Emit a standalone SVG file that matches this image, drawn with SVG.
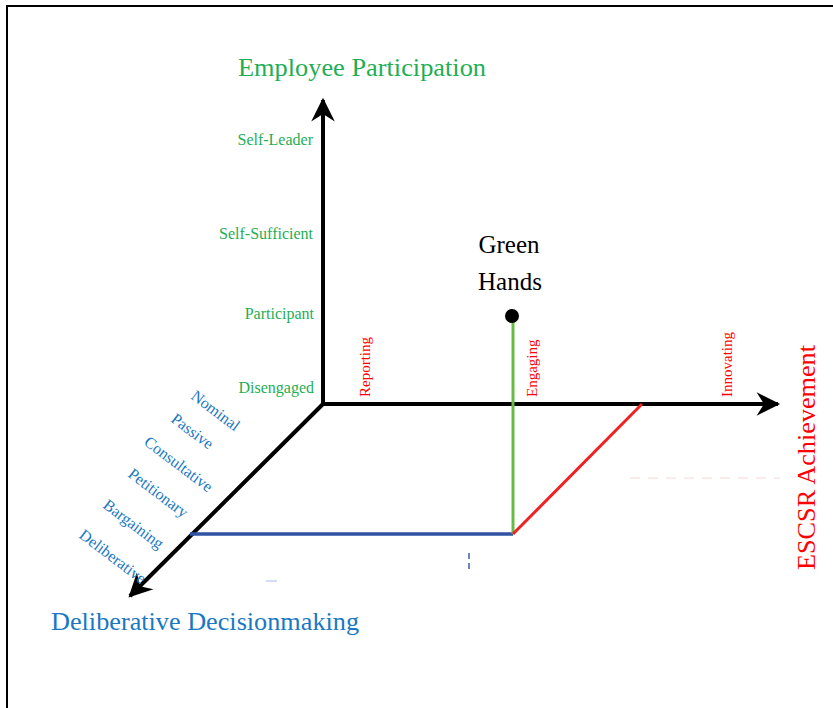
<svg xmlns="http://www.w3.org/2000/svg" width="833" height="708" viewBox="0 0 833 708">
<style>
.serif{font-family:"Liberation Serif","Times New Roman",serif}
.g{fill:#1fae55;font-size:16px}
.r{fill:#ff0000;font-size:15px}
.b{fill:#1a78c2;font-size:16px}
.axis{stroke:#000;stroke-width:4;fill:none}
</style>
<defs>
<marker id="ah" markerUnits="userSpaceOnUse" markerWidth="30" markerHeight="30" viewBox="-24 -14 28 28" refX="0" refY="0" orient="auto">
<path d="M2,0 L-20,-11 L-13,0 L-20,11 Z" fill="#000"/>
</marker>
</defs>
<rect x="0" y="0" width="833" height="708" fill="#fff"/>
<rect x="7" y="6" width="900" height="800" fill="none" stroke="#000" stroke-width="2"/>

<g id="connectors">
<line class="axis" x1="323" y1="404" x2="323" y2="100" marker-end="url(#ah)"/>
<line class="axis" x1="321" y1="404" x2="778" y2="404" marker-end="url(#ah)"/>
<line class="axis" x1="323" y1="404" x2="130" y2="596" marker-end="url(#ah)"/>
<line x1="190" y1="534" x2="513" y2="534" stroke="#2f52a3" stroke-width="3.5"/>
<line x1="513" y1="316" x2="513" y2="534" stroke="#66bb44" stroke-width="3"/>
<line x1="513" y1="534" x2="642" y2="404" stroke="#ee2222" stroke-width="3"/>
<line x1="469" y1="553" x2="469" y2="571" stroke="#2f52a3" stroke-width="2" stroke-dasharray="6 4" opacity="0.7"/>
<line x1="630" y1="478" x2="780" y2="478" stroke="#f4b0b0" stroke-width="1" stroke-dasharray="10 8" opacity="0.5"/>
<line x1="266" y1="581" x2="277" y2="581" stroke="#8fa6d8" stroke-width="1.5" opacity="0.5"/>
</g>

<g id="axis-employee-participation" class="serif">
<text x="238" y="76" font-size="26" fill="#1fae55" textLength="248" lengthAdjust="spacingAndGlyphs">Employee Participation</text>
<text class="g" x="313" y="145" text-anchor="end">Self-Leader</text>
<text class="g" x="313" y="239" text-anchor="end">Self-Sufficient</text>
<text class="g" x="314" y="319" text-anchor="end">Participant</text>
<text class="g" x="314" y="393" text-anchor="end">Disengaged</text>
</g>

<g id="axis-escsr-achievement" class="serif">
<text class="r" transform="translate(370,397) rotate(-90)">Reporting</text>
<text class="r" transform="translate(537,397) rotate(-90)">Engaging</text>
<text class="r" transform="translate(732,397) rotate(-90)">Innovating</text>
<text transform="translate(815,570) rotate(-90)" font-size="26" fill="#ff0000" textLength="225" lengthAdjust="spacingAndGlyphs">ESCSR Achievement</text>
</g>

<g id="axis-deliberative-decisionmaking" class="serif">
<text class="b" transform="translate(190,398) rotate(37)">Nominal</text>
<text class="b" transform="translate(170,421) rotate(37)">Passive</text>
<text class="b" transform="translate(143,444) rotate(37)">Consultative</text>
<text class="b" transform="translate(127,476) rotate(37)">Petitionary</text>
<text class="b" transform="translate(102,507) rotate(37)">Bargaining</text>
<text class="b" transform="translate(78,537) rotate(37)">Deliberative</text>
<text x="51" y="630" font-size="25" fill="#1a78c2" textLength="308" lengthAdjust="spacingAndGlyphs">Deliberative  Decisionmaking</text>
</g>

<g id="green-hands" class="serif">
<circle cx="512" cy="316" r="7" fill="#000"/>
<text x="509" y="253" font-size="25" text-anchor="middle" fill="#000">Green</text>
<text x="510" y="290" font-size="25" text-anchor="middle" fill="#000">Hands</text>
</g>
</svg>
